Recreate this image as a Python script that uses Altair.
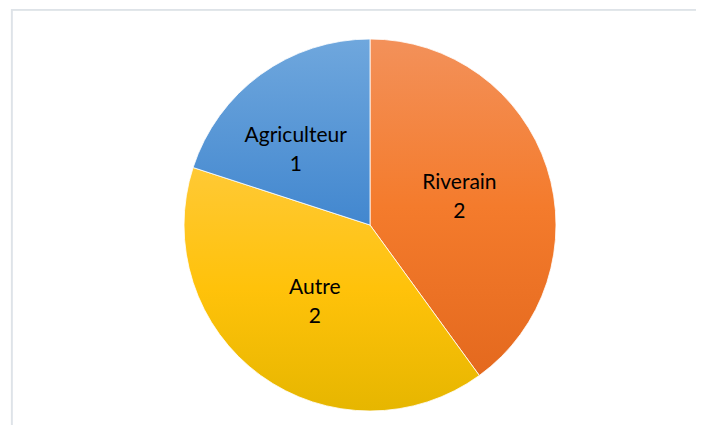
import altair as alt
import pandas as pd

categories = ["Riverain", "Autre", "Agriculteur"]
values = [2, 2, 1]
order_idx = [0, 1, 2]

df = pd.DataFrame({"category": categories, "value": values, "idx": order_idx})

grad_orange = {"gradient": "linear", "x1": 0, "y1": 0, "x2": 0, "y2": 1,
               "stops": [{"offset": 0, "color": "#F3915A"}, {"offset": 0.5, "color": "#F47B2C"},
                         {"offset": 1, "color": "#E4691E"}]}
grad_yellow = {"gradient": "linear", "x1": 0, "y1": 0, "x2": 0, "y2": 1,
               "stops": [{"offset": 0, "color": "#FFC935"}, {"offset": 0.5, "color": "#FFC20A"},
                         {"offset": 1, "color": "#E6B600"}]}
grad_blue = {"gradient": "linear", "x1": 0, "y1": 0, "x2": 0, "y2": 1,
             "stops": [{"offset": 0, "color": "#6FA7DD"}, {"offset": 1, "color": "#4287CF"}]}

fill = (alt.when(alt.datum.category == "Riverain").then(alt.value(grad_orange))
        .when(alt.datum.category == "Autre").then(alt.value(grad_yellow))
        .otherwise(alt.value(grad_blue)))

cx, cy = 362, 217

base = alt.Chart(df).encode(
    theta=alt.Theta("value:Q", stack=True),
    order=alt.Order("idx:Q"),
    x=alt.value(cx),
    y=alt.value(cy),
)

arcs = base.mark_arc(outerRadius=186, stroke="#FFFFFF", strokeWidth=0.8).encode(fill=fill)

labels = base.transform_calculate(
    label="[datum.category, '' + datum.value]"
).mark_text(font="Lato", fontSize=21, color="#000000", lineHeight=29,
            align="center", baseline="middle", dy=-13,
            dx=alt.expr("datum.category === 'Agriculteur' ? -19 : 0")).encode(
    text="label:N", radius=alt.value(94)
)

frame = alt.Chart(df).mark_rect(fill=None, stroke="#DEE3E8", strokeWidth=1.5).encode(
    x=alt.value(3.7), y=alt.value(1.8), x2=alt.value(760), y2=alt.value(480)
)

chart = alt.layer(frame, arcs, labels).properties(
    width=688, height=417, autosize="none", padding=0
).configure_view(stroke=None)

chart.save("out.html", embed_options={"renderer": "svg", "actions": False})
